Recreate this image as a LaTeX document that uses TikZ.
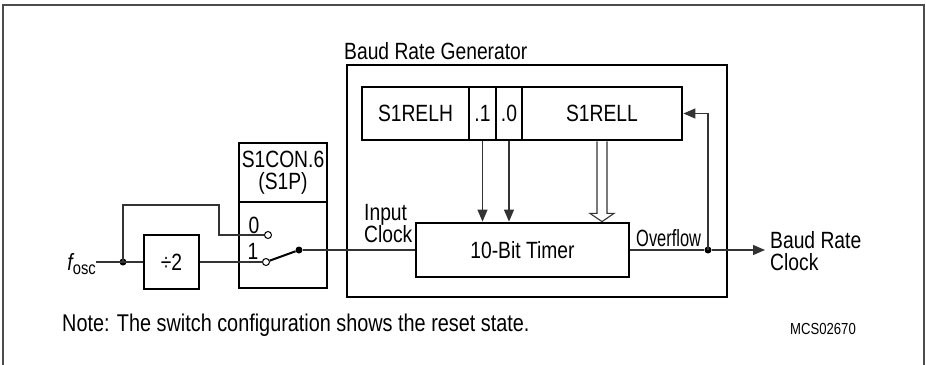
\documentclass[tikz,border=0pt]{standalone}
\usepackage{fontspec}
\setmainfont{Liberation Sans}[FakeStretch=0.82]
\newfontfamily\narrowfont{Liberation Sans}[FakeStretch=0.7]
\usetikzlibrary{arrows.meta,calc}
\begin{document}
\begin{tikzpicture}[x=1pt,y=-1pt,
  txt/.style={font=\fontsize{23.5}{22}\selectfont, inner sep=0pt},
  thickbox/.style={draw, line width=2.8pt, inner sep=0pt},
  wire/.style={draw=black!80, line width=1.1pt},
  outerframe/.style={draw=black!70, line width=1.6pt},
  arr/.style={-{Triangle[length=12pt,width=10pt]}},
  jdot/.style={circle, fill=black, minimum size=7pt, inner sep=0pt},
  opin/.style={circle, draw=black, fill=white, line width=1pt, minimum size=7pt, inner sep=0pt},
]
\useasboundingbox (0,0) rectangle (926,364);
\draw[outerframe] (3,380) -- (3,5) -- (924,5) -- (924,380);

% S1CON.6 switch block
\node[thickbox, txt, align=center, minimum width=88pt, minimum height=59pt] (scon) at (283,172.5) {S1CON.6\\(S1P)};
\node[thickbox, minimum width=88pt, minimum height=86pt] (sw) at (283,245) {};

% Baud rate generator
\node[thickbox, minimum width=380pt, minimum height=232pt] (brg) at (537,181) {};
\node[txt, anchor=west] (brgl) at (344,51) {Baud Rate Generator};

% reload registers
\node[thickbox, txt, minimum width=107pt, minimum height=53pt] (rh) at (415.5,113.5) {S1RELH};
\node[thickbox, txt, minimum width=27pt, minimum height=53pt] (b1) at (482.5,113.5) {.1};
\node[thickbox, txt, minimum width=26pt, minimum height=53pt] (b0) at (509,113.5) {.0};
\node[thickbox, txt, minimum width=160pt, minimum height=53pt] (rl) at (602,113.5) {S1RELL};

% timer
\node[thickbox, txt, minimum width=213pt, minimum height=54pt] (timer) at (522.5,250) {10-Bit Timer};

% divider
\node[thickbox, txt, minimum width=55pt, minimum height=54pt] (div) at (171.5,262) {÷2};

% f_osc
\node[txt, anchor=east] (fosc) at (96,264) {{\itshape f}\raisebox{-4pt}{\fontsize{18}{18}\selectfont osc}};

% junctions and pins
\node[jdot] (d1) at (123,262) {};
\node[opin] (p0) at (268,235) {};
\node[opin] (p1) at (266,262) {};
\node[jdot] (ps) at (299,250) {};
\node[txt] (l0) at (254,225) {0};
\node[txt] (l1) at (253,251) {1};
\coordinate (k) at (219,205);

\draw[wire] (fosc.east |- div.west) -- (div.west);
\draw[wire] (div.east) -- (p1.west);
\draw[wire] (d1.center) |- (k) |- (p0.west);
\draw[line width=2pt] (p1) -- (ps);
\draw[wire] (ps) -- (timer.west);
\node[txt, align=left, anchor=west] (inclk) at (364,224) {Input\\Clock};

% arrows from register
\draw[wire, arr] (b1.south) -- (b1.south |- timer.north);
\draw[wire, arr] (b0.south) -- (b0.south |- timer.north);
\draw[wire, line join=miter] ($(rl.south)+(-5,0)$) -- ++(0,72) -- ++(-7,0) -- (rl.south |- timer.north) -- ($(rl.south)+(12,72)$) -- ++(-7,0) -- ++(0,-72);

% overflow and feedback
\node[jdot] (d2) at (708,250) {};
\coordinate (out) at (765,250);
\draw[wire] (timer.east) -- (d2);
\draw[wire, arr] (d2) -- (out);
\draw[wire, arr] (d2.center) |- (rl.east);
\node[txt, anchor=west, font=\narrowfont\fontsize{23.5}{20}\selectfont] (ovf) at (636,238) {Overflow};
\node[txt, anchor=west, align=left] (brc) at (770,251) {Baud Rate\\Clock};

% note
\node[txt, anchor=west, font=\fontsize{24.2}{20}\selectfont] (note) at (62,325) {Note: The switch configuration shows the reset state.};
\node[font=\fontsize{16}{15}\selectfont, anchor=west, inner sep=0pt] (code) at (790,329) {MCS02670};
\end{tikzpicture}
\end{document}
